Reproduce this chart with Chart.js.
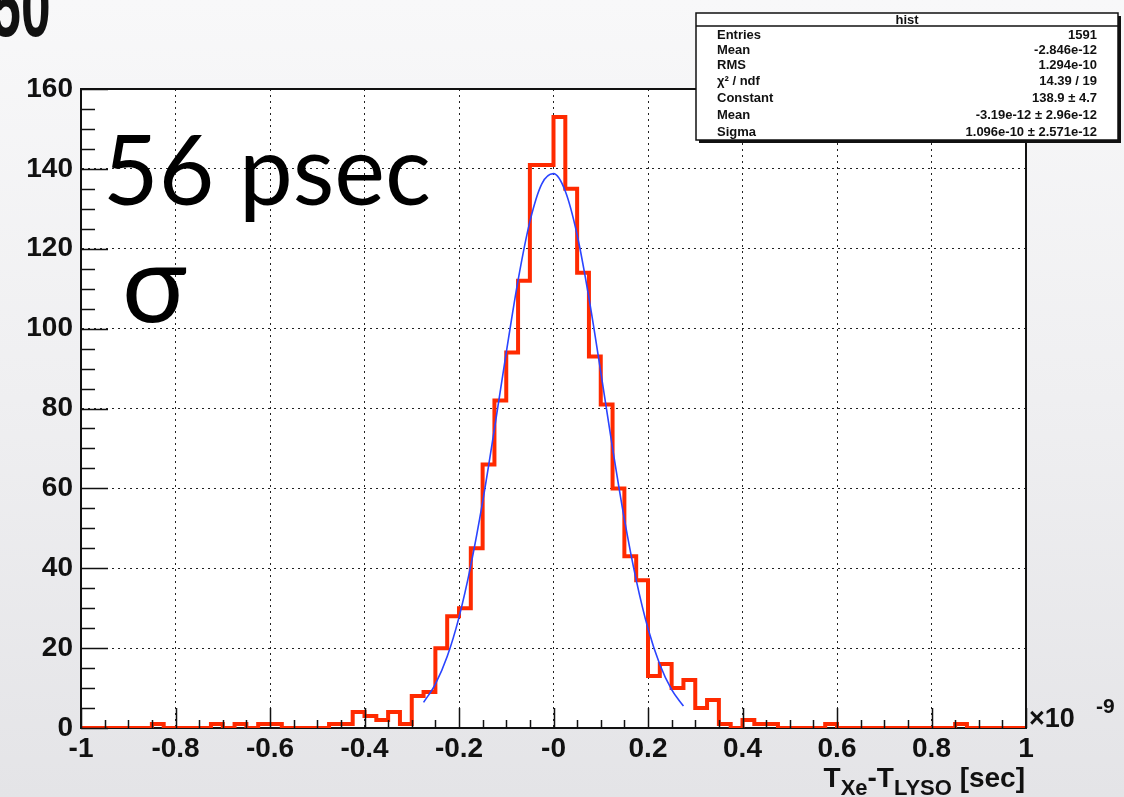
<!DOCTYPE html>
<html>
<head>
<meta charset="utf-8">
<script src="https://cdn.jsdelivr.net/npm/chart.js@4/dist/chart.umd.min.js"></script>
<style>
  html, body { margin: 0; padding: 0; }
  body {
    width: 1124px; height: 797px; overflow: hidden;
    background: linear-gradient(180deg, #f8f8f9 0%, #efeff1 50%, #e4e4e7 100%);
  }
  canvas { display: block; }
</style>
</head>
<body>
<canvas id="c" width="1124" height="797"></canvas>
<script>
// histogram: 80 bins of 0.025 (x 1e-9 sec) from -1 to 1
const binStart = -1;
const binWidth = 0.025;
const counts = [
  0, 0, 0, 0, 0, 0, 1, 0, 0, 0,
  0, 1, 0, 1, 0, 1, 1, 0, 0, 0,
  0, 1, 1, 4, 3, 2, 4, 1, 8, 9,
  20, 28, 30, 45, 66, 82, 94, 112, 141, 141,
  153, 135, 114, 93, 81, 60, 43, 37, 13, 16,
  10, 12, 5, 7, 1, 0, 2, 1, 1, 0,
  0, 0, 0, 1, 0, 0, 0, 0, 0, 0,
  0, 0, 0, 0, 1, 0, 0, 0, 0, 0
];

// gaussian fit curve
const fitX = [-0.275, -0.25, -0.225, -0.2, -0.175, -0.15, -0.125, -0.1, -0.075, -0.05, -0.025, 0,
  0.025, 0.05, 0.075, 0.1, 0.125, 0.15, 0.175, 0.2, 0.225, 0.25, 0.275];
const fitY = [6.4, 11.0, 17.9, 27.7, 40.7, 56.6, 74.9, 94.0, 112.1, 126.8, 136.2, 138.8,
  134.4, 123.5, 107.7, 89.2, 70.1, 52.3, 37.1, 24.9, 15.9, 9.6, 5.5];

const xTickLabels = ["-1", "-0.8", "-0.6", "-0.4", "-0.2", "-0", "0.2", "0.4", "0.6", "0.8", "1"];
const yTickLabels = ["0", "20", "40", "60", "80", "100", "120", "140", "160"];

const statLabels = ["Entries", "Mean", "RMS", "\u03c7\u00b2 / ndf", "Constant", "Mean", "Sigma"];
const statValues = ["1591", "-2.846e-12", "1.294e-10", "14.39 / 19", "138.9 \u00b1 4.7",
  "-3.19e-12 \u00b1 2.96e-12", "1.096e-10 \u00b1 2.571e-12"];

const histPoints = counts.map((c, i) => ({ x: binStart + i * binWidth, y: c }));
histPoints.push({ x: binStart + counts.length * binWidth, y: counts[counts.length - 1] });
const fitPoints = fitX.map((x, i) => ({ x: x, y: fitY[i] }));

const BOLD = "'Liberation Sans', Arial, Helvetica, sans-serif";

// -------- extras: plot fill, frame, inner ticks, texts, stats box --------
const extras = {
  id: "extras",
  beforeDraw(chart) {
    const { ctx, chartArea: a } = chart;
    ctx.save();
    ctx.fillStyle = "#ffffff";
    ctx.fillRect(a.left, a.top, a.right - a.left, a.bottom - a.top);
    ctx.restore();
  },
  afterDatasetsDraw(chart) {
    const { ctx, chartArea: a, scales } = chart;
    ctx.save();
    ctx.strokeStyle = "#111";
    ctx.lineWidth = 2;
    // top / right frame
    ctx.beginPath();
    ctx.moveTo(a.left, a.top); ctx.lineTo(a.right, a.top); ctx.lineTo(a.right, a.bottom);
    ctx.stroke();
    // inner ticks
    ctx.lineWidth = 1.5;
    ctx.beginPath();
    for (let v = 0; v <= 160; v += 5) {
      const y = Math.round(scales.y.getPixelForValue(v)) + 0.5;
      const len = v % 20 === 0 ? 27 : 14;
      ctx.moveTo(a.left, y); ctx.lineTo(a.left + len, y);
    }
    for (let k = 0; k <= 40; k++) {
      const x = Math.round(scales.x.getPixelForValue(-1 + k * 0.05)) + 0.5;
      const len = k % 4 === 0 ? 20 : 8;
      ctx.moveTo(x, a.bottom); ctx.lineTo(x, a.bottom - len);
    }
    ctx.stroke();
    ctx.restore();
  },
  afterDraw(chart) {
    const { ctx } = chart;
    ctx.save();
    ctx.fillStyle = "#111";
    ctx.textBaseline = "alphabetic";

    // fragment of slide title, top-left (cut by the page edge)
    ctx.save();
    ctx.scale(0.62, 1);
    ctx.font = "bold 86px " + BOLD;
    ctx.fillText("50", -14, 36);
    ctx.restore();

    // big annotation
    ctx.fillStyle = "#000";
    ctx.font = "96px Lato, 'Open Sans', sans-serif";
    ctx.fillText("56 psec", 103, 205);
    ctx.font = "108px Lato, 'Open Sans', sans-serif";
    ctx.fillText("\u03c3", 122, 322);

    // x10^-9
    ctx.fillStyle = "#111";
    ctx.font = "bold 27px " + BOLD;
    ctx.fillText("\u00d710", 1029, 727);
    ctx.font = "bold 21px " + BOLD;
    ctx.fillText("-9", 1096, 713);

    // axis title T_Xe - T_LYSO [sec]
    const parts = [
      ["T", 28, 0], ["Xe", 22, 8], ["-T", 28, 0], ["LYSO", 22, 8], [" [sec]", 28, 0]
    ];
    let total = 0;
    parts.forEach(p => { ctx.font = "bold " + p[1] + "px " + BOLD; total += ctx.measureText(p[0]).width; });
    let px = 1025 - total;
    parts.forEach(p => {
      ctx.font = "bold " + p[1] + "px " + BOLD;
      ctx.fillText(p[0], px, 787 + p[2]);
      px += ctx.measureText(p[0]).width;
    });

    // stats box
    const bx = 696, by = 13, bw = 422, bh = 127;
    ctx.fillStyle = "#111";
    ctx.fillRect(bx + 3, by + 3, bw, bh);
    ctx.fillStyle = "#fff";
    ctx.fillRect(bx, by, bw, bh);
    ctx.strokeStyle = "#111";
    ctx.lineWidth = 1.5;
    ctx.strokeRect(bx, by, bw, bh);
    ctx.beginPath();
    ctx.moveTo(bx, 26); ctx.lineTo(bx + bw, 26);
    ctx.stroke();
    ctx.fillStyle = "#111";
    ctx.textBaseline = "middle";
    ctx.font = "bold 13px " + BOLD;
    ctx.textAlign = "center";
    ctx.fillText("hist", bx + bw / 2, 20);
    const rowY = [35.5, 50.5, 65.5, 81.5, 98.5, 115, 132];
    ctx.font = "bold 13px " + BOLD;
    statLabels.forEach((s, i) => {
      ctx.textAlign = "left";
      ctx.fillText(s, 717, rowY[i]);
      ctx.textAlign = "right";
      ctx.fillText(statValues[i], 1097, rowY[i]);
    });
    ctx.restore();
  }
};

new Chart(document.getElementById("c"), {
  type: "line",
  data: {
    datasets: [
      {
        label: "hist",
        data: histPoints,
        stepped: true,
        borderColor: "#ff2a00",
        borderWidth: 4,
        pointRadius: 0,
        fill: false,
        order: 2
      },
      {
        label: "fit",
        data: fitPoints,
        borderColor: "#2a44ff",
        borderWidth: 1.6,
        pointRadius: 0,
        cubicInterpolationMode: "monotone",
        fill: false,
        order: 1
      }
    ]
  },
  options: {
    responsive: false,
    devicePixelRatio: 1,
    animation: false,
    layout: { padding: { top: 89, right: 98, left: 0, bottom: 0 } },
    plugins: { legend: { display: false }, tooltip: { enabled: false } },
    scales: {
      x: {
        type: "linear",
        min: -1,
        max: 1,
        afterFit: (s) => { s.height = 69; },
        ticks: {
          stepSize: 0.2,
          autoSkip: false,
          maxRotation: 0,
          padding: 4,
          color: "#111",
          font: { family: BOLD, weight: "bold", size: 28 },
          callback: (v) => xTickLabels[Math.round((v + 1) / 0.2)]
        },
        grid: { color: "#222", lineWidth: 1, drawTicks: false },
        border: { display: true, color: "#111", width: 2, dash: [2, 4] }
      },
      y: {
        min: 0,
        max: 160,
        afterFit: (s) => { s.width = 81; },
        ticks: {
          stepSize: 20,
          autoSkip: false,
          padding: 8,
          color: "#111",
          font: { family: BOLD, weight: "bold", size: 28 },
          callback: (v) => yTickLabels[Math.round(v / 20)]
        },
        grid: { color: "#222", lineWidth: 1, drawTicks: false },
        border: { display: true, color: "#111", width: 2, dash: [2, 4] }
      }
    }
  },
  plugins: [extras]
});
</script>
</body>
</html>
